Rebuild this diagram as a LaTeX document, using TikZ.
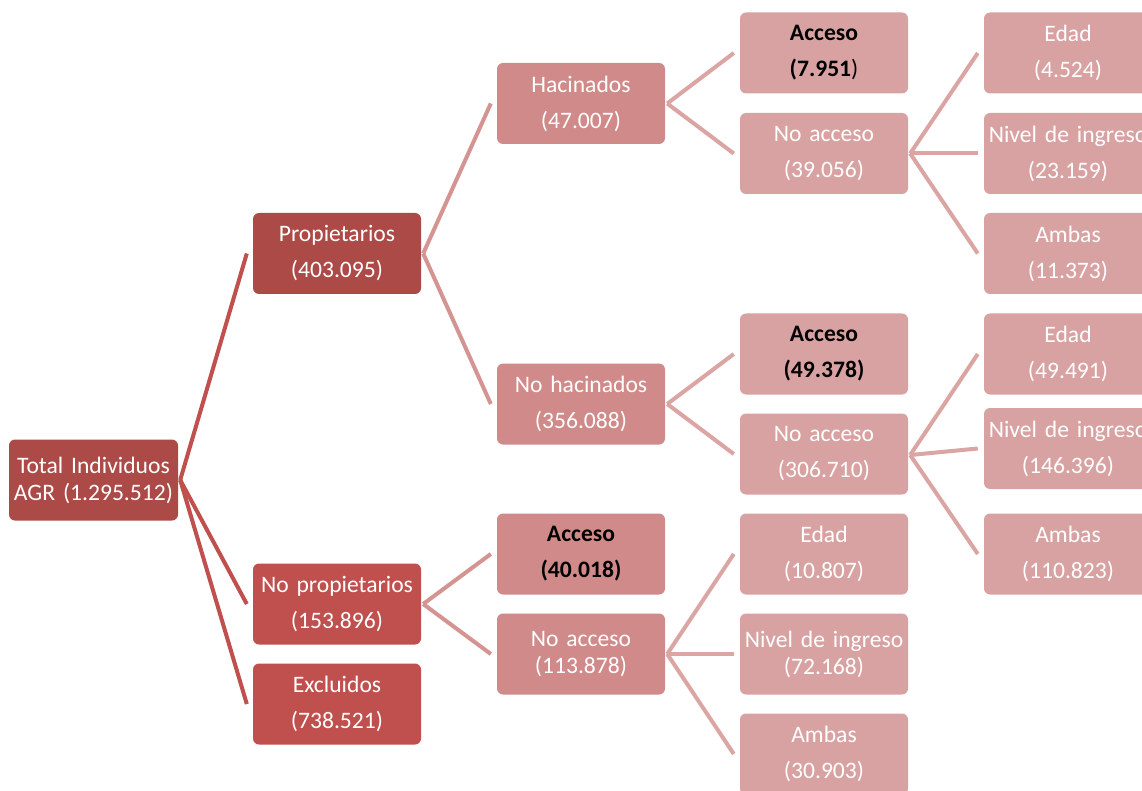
\documentclass[tikz,border=0pt]{standalone}
\usepackage{fontspec}
\setmainfont{Carlito}[WordSpace={0.85,0,0}]
\definecolor{dk}{HTML}{AC4A48}
\definecolor{md}{HTML}{C0504D}
\definecolor{lt}{HTML}{D08A89}
\definecolor{vl}{HTML}{D9A2A2}
\definecolor{cA}{HTML}{C0504D}
\definecolor{cB}{HTML}{D49492}
\definecolor{cC}{HTML}{DBA5A4}
\tikzset{
  box/.style={rounded corners=6pt, minimum width=168pt, minimum height=81pt,
    text width=166pt, align=center, inner sep=0pt, text=white,
    font=\fontsize{23.6}{36}\selectfont},
  tight/.style={font=\fontsize{23.6}{27}\selectfont},
  lvA/.style={box, fill=dk},
  lvB/.style={box, fill=md},
  lvC/.style={box, fill=lt},
  lvD/.style={box, fill=vl},
  conA/.style={draw=cA, line width=4pt},
  conB/.style={draw=cB, line width=4pt},
  conC/.style={draw=cC, line width=4pt},
}
\begin{document}
\begin{tikzpicture}[x=1pt,y=-1pt]
\fill[white] (0,0) rectangle (1142,791);
\useasboundingbox (0,0) rectangle (1142,791);
\clip (0,0) rectangle (1142,791);
% level 0
\node[lvA, tight, minimum width=169pt] (total) at (93.5,480) {Total Individuos\\AGR (1.295.512)};
% level 1
\node[lvA] (prop) at (337,253.5) {Propietarios\\(403.095)};
\node[lvB] (noprop) at (337,604) {No propietarios\\(153.896)};
\node[lvB] (excl) at (337,704) {Excluidos\\(738.521)};
% level 2
\node[lvC] (hac) at (581,103.5) {Hacinados\\(47.007)};
\node[lvC] (nohac) at (581,404) {No hacinados\\(356.088)};
\node[lvC, text=black] (accB) at (581,554) {\textbf{Acceso}\\\textbf{(40.018)}};
\node[lvC, tight] (noaccB) at (581,654) {No acceso\\(113.878)};
% level 3
\node[lvD, text=black] (accH) at (824,53) {\textbf{Acceso}\\\textbf{(7.951})};
\node[lvD] (noaccH) at (824,153.5) {No acceso\\(39.056)};
\node[lvD, text=black] (accN) at (824,354) {\textbf{Acceso}\\\textbf{(49.378)}};
\node[lvD] (noaccN) at (824,454) {No acceso\\(306.710)};
\node[lvD] (edadB) at (824,554) {Edad\\(10.807)};
\node[lvD, tight] (nivB) at (824,654) {Nivel de ingreso\\(72.168)};
\node[lvD] (ambB) at (824,754) {Ambas\\(30.903)};
% level 4
\node[lvD] (edadH) at (1068,53) {Edad\\(4.524)};
\node[lvD] (nivH) at (1068,153.5) {Nivel de ingreso\\(23.159)};
\node[lvD] (ambH) at (1068,253.5) {Ambas\\(11.373)};
\node[lvD] (edadN) at (1068,354) {Edad\\(49.491)};
\node[lvD] (nivN) at (1068,448.5) {Nivel de ingreso\\(146.396)};
\node[lvD] (ambN) at (1068,554) {Ambas\\(110.823)};
% connectors
\foreach \c in {prop,noprop,excl}
  \draw[conA] ([xshift=2pt]total.east) -- ([xshift=-6pt]\c.west);
\foreach \c in {hac,nohac}
  \draw[conB] ([xshift=2pt]prop.east) -- ([xshift=-6pt]\c.west);
\foreach \c in {accB,noaccB}
  \draw[conB] ([xshift=2pt]noprop.east) -- ([xshift=-6pt]\c.west);
\foreach \c in {accH,noaccH}
  \draw[conC] ([xshift=2pt]hac.east) -- ([xshift=-6pt]\c.west);
\foreach \c in {accN,noaccN}
  \draw[conC] ([xshift=2pt]nohac.east) -- ([xshift=-6pt]\c.west);
\foreach \c in {edadB,nivB,ambB}
  \draw[conC] ([xshift=2pt]noaccB.east) -- ([xshift=-6pt]\c.west);
\foreach \c in {edadH,nivH,ambH}
  \draw[conC] ([xshift=2pt]noaccH.east) -- ([xshift=-6pt]\c.west);
\foreach \c in {edadN,nivN,ambN}
  \draw[conC] ([xshift=2pt,yshift=-1pt]noaccN.east) -- ([xshift=-6pt]\c.west);
\end{tikzpicture}
\end{document}
